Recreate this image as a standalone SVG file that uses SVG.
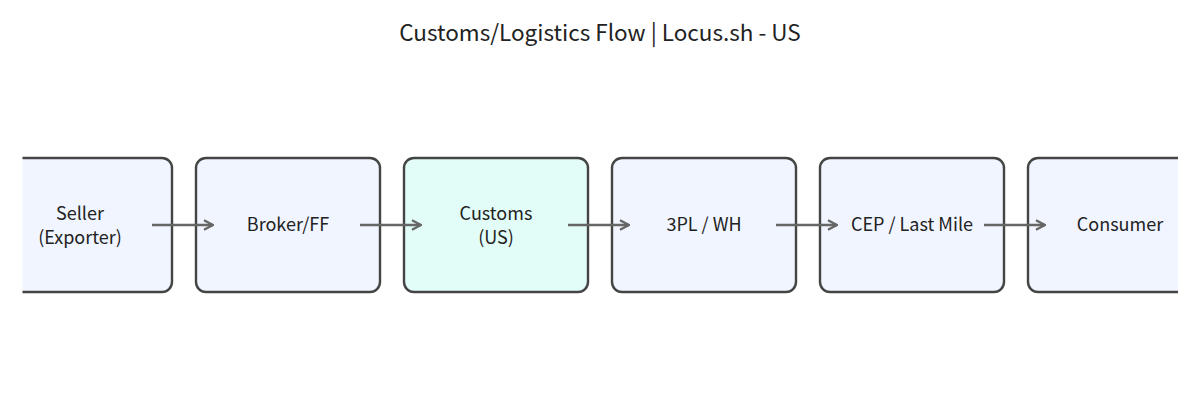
<svg xmlns="http://www.w3.org/2000/svg" width="1200" height="420" viewBox="0 0 1200 420">
<style>
.title{font-family:"Noto Sans CJK KR","Noto Sans",sans-serif;font-size:22.5px;fill:#222;text-anchor:middle}
.lbl{font-family:"Noto Sans CJK KR","Noto Sans",sans-serif;font-size:18px;fill:#222;text-anchor:middle}
.box{fill:#f0f5ff;stroke:#444;stroke-width:2.4}
.box.cust{fill:#e2fdf8}
.edge{stroke:#666;stroke-width:2.4;fill:none;marker-end:url(#arr)}
</style>
<defs>
<marker id="arr" viewBox="0 0 10 10" refX="9" refY="5" markerWidth="12" markerHeight="12" orient="auto" markerUnits="userSpaceOnUse">
<path d="M1.5,1 L9,5 L1.5,9" fill="none" stroke="#666" stroke-width="2"/>
</marker>
<clipPath id="clip"><rect x="22.5" y="0" width="1155.5" height="420"/></clipPath>
</defs>
<rect width="1200" height="420" fill="#fff"/>
<text class="title" x="600" y="41">Customs/Logistics Flow | Locus.sh - US</text>
<g clip-path="url(#clip)">
<g id="seller"><rect class="box" x="-12" y="158" width="184" height="134" rx="10"/><text class="lbl" x="80" y="220">Seller</text><text class="lbl" x="80" y="243.5">(Exporter)</text></g>
<g id="broker"><rect class="box" x="196" y="158" width="184" height="134" rx="10"/><text class="lbl" x="288" y="231">Broker/FF</text></g>
<g id="customs"><rect class="box cust" x="404" y="158" width="184" height="134" rx="10"/><text class="lbl" x="496" y="220">Customs</text><text class="lbl" x="496" y="243.5">(US)</text></g>
<g id="threepl"><rect class="box" x="612" y="158" width="184" height="134" rx="10"/><text class="lbl" x="704" y="231">3PL / WH</text></g>
<g id="cep"><rect class="box" x="820" y="158" width="184" height="134" rx="10"/><text class="lbl" x="912" y="231">CEP / Last Mile</text></g>
<g id="consumer"><rect class="box" x="1028" y="158" width="184" height="134" rx="10"/><text class="lbl" x="1120" y="231">Consumer</text></g>
</g>
<g id="connectors">
<line class="edge" x1="152" y1="225" x2="213" y2="225"/>
<line class="edge" x1="360" y1="225" x2="421" y2="225"/>
<line class="edge" x1="568" y1="225" x2="629" y2="225"/>
<line class="edge" x1="776" y1="225" x2="837" y2="225"/>
<line class="edge" x1="984" y1="225" x2="1045" y2="225"/>
</g>
</svg>
